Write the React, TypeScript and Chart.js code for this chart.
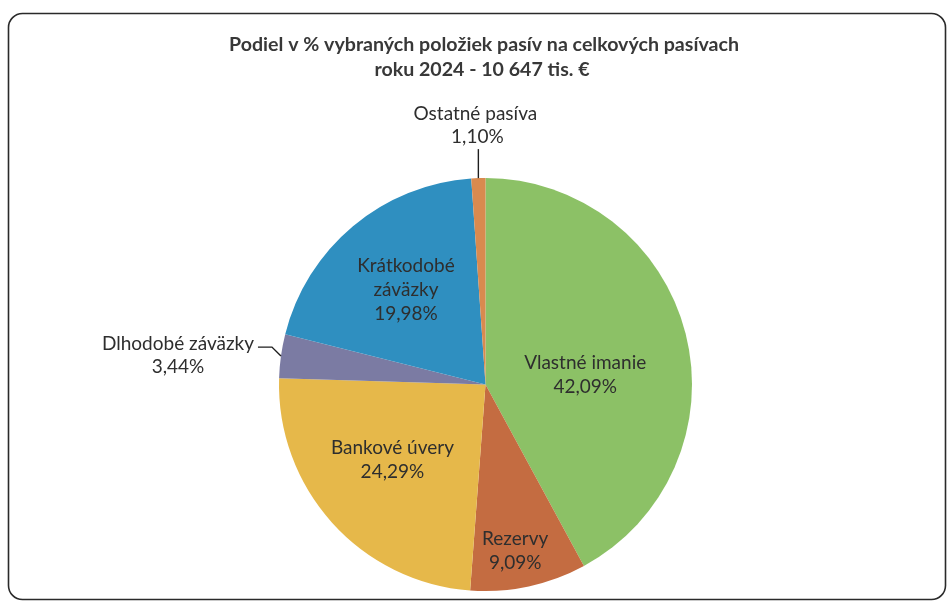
import React, { useEffect, useRef } from "react";
import { Chart, registerables } from "chart.js";

Chart.register(...registerables);

const categories = [
  "Vlastné imanie",
  "Rezervy",
  "Bankové úvery",
  "Dlhodobé záväzky",
  "Krátkodobé záväzky",
  "Ostatné pasíva",
];
const labelLines = [
  ["Vlastné imanie"],
  ["Rezervy"],
  ["Bankové úvery"],
  ["Dlhodobé záväzky"],
  ["Krátkodobé", "záväzky"],
  ["Ostatné pasíva"],
];
const values = [42.09, 9.09, 24.29, 3.44, 19.98, 1.1];
const percentLabels = ["42,09%", "9,09%", "24,29%", "3,44%", "19,98%", "1,10%"];
const titleLines = [
  "Podiel v % vybraných položiek pasív na celkových pasívach",
  "roku 2024 - 10 647 tis. €",
];
const colors = ["#8cc166", "#c46c41", "#e6b84a", "#7b7ba3", "#2f8fc0", "#d98a4f"];

// label placement style (mode, radial factor, angle shift in degrees)
const placement = [
  { mode: "in", f: 0.485, shift: 8.7 },
  { mode: "in", f: 0.82, shift: 2 },
  { mode: "in", f: 0.58, shift: 3 },
  { mode: "left" },
  { mode: "in", f: 0.6, shift: 0 },
  { mode: "top" },
];

const FONT = "Lato, 'Open Sans', sans-serif";
const TEXT = "#2e2e2e";

const decorPlugin = {
  id: "decor",
  beforeDraw(chart: any) {
    const ctx = chart.ctx;
    ctx.save();
    ctx.fillStyle = "#ffffff";
    ctx.fillRect(0, 0, chart.width, chart.height);
    // frame
    const x = 8.5, y = 13.5, w = 937, h = 586, r = 14;
    ctx.beginPath();
    ctx.moveTo(x + r, y);
    ctx.lineTo(x + w - r, y);
    ctx.arcTo(x + w, y, x + w, y + r, r);
    ctx.lineTo(x + w, y + h - r);
    ctx.arcTo(x + w, y + h, x + w - r, y + h, r);
    ctx.lineTo(x + r, y + h);
    ctx.arcTo(x, y + h, x, y + h - r, r);
    ctx.lineTo(x, y + r);
    ctx.arcTo(x, y, x + r, y, r);
    ctx.closePath();
    ctx.strokeStyle = "#2a2a2a";
    ctx.lineWidth = 1.6;
    ctx.stroke();
    // title
    ctx.fillStyle = "#383838";
    ctx.font = `bold 19.6px ${FONT}`;
    ctx.textAlign = "center";
    ctx.textBaseline = "middle";
    ctx.fillText(titleLines[0], 484, 45);
    ctx.fillText(titleLines[1], 482, 70);
    ctx.restore();
  },
  afterDatasetsDraw(chart: any) {
    const ctx = chart.ctx;
    const meta = chart.getDatasetMeta(0);
    ctx.save();
    ctx.fillStyle = TEXT;
    ctx.font = `19px ${FONT}`;
    ctx.textBaseline = "middle";
    const lh = 24;
    meta.data.forEach((arc: any, i: number) => {
      const { x, y, startAngle, endAngle, outerRadius } = arc.getProps(
        ["x", "y", "startAngle", "endAngle", "outerRadius"],
        true
      );
      const mid = (startAngle + endAngle) / 2;
      const p: any = placement[i];
      const lines = [...labelLines[i], percentLabels[i]];
      if (p.mode === "in") {
        const a = mid + (p.shift * Math.PI) / 180;
        const cx = x + Math.cos(a) * outerRadius * p.f;
        const cy = y + Math.sin(a) * outerRadius * p.f;
        ctx.textAlign = "center";
        const top = cy - ((lines.length - 1) * lh) / 2;
        lines.forEach((t, k) => ctx.fillText(t, cx, top + k * lh));
      } else if (p.mode === "top") {
        const ex = x + Math.cos(mid) * outerRadius;
        const ey = y + Math.sin(mid) * outerRadius;
        ctx.strokeStyle = "#1e1e1e";
        ctx.lineWidth = 1.4;
        ctx.beginPath();
        ctx.moveTo(ex, ey);
        ctx.lineTo(ex, ey - 29);
        ctx.stroke();
        ctx.textAlign = "center";
        ctx.fillText(lines[0], ex - 3, ey - 64);
        ctx.fillText(lines[1], ex - 1, ey - 41);
      } else {
        const ex = x + Math.cos(mid) * outerRadius;
        const ey = y + Math.sin(mid) * outerRadius;
        ctx.strokeStyle = "#1e1e1e";
        ctx.lineWidth = 1.4;
        ctx.beginPath();
        ctx.moveTo(ex, ey);
        ctx.lineTo(ex - 9, ey - 9);
        ctx.lineTo(ex - 23, ey - 9);
        ctx.stroke();
        ctx.textAlign = "right";
        ctx.fillText(lines[0], ex - 27, ey - 12);
        ctx.textAlign = "center";
        ctx.fillText(lines[1], ex - 103, ey + 11);
      }
    });
    ctx.restore();
  },
};

export default function App() {
  const ref = useRef<HTMLCanvasElement>(null);
  useEffect(() => {
    if (!ref.current) return;
    const chart = new Chart(ref.current, {
      type: "pie",
      data: {
        labels: categories,
        datasets: [
          {
            data: values,
            backgroundColor: colors,
            borderWidth: 0,
          },
        ],
      },
      options: {
        responsive: false,
        animation: false,
        rotation: 0,
        layout: { padding: { top: 178, bottom: 11, left: 279, right: 258 } },
        plugins: {
          legend: { display: false },
          tooltip: { enabled: false },
          title: { display: false },
        },
      },
      plugins: [decorPlugin],
    });
    return () => chart.destroy();
  }, []);
  return (
    <div style={{ position: "fixed", left: 0, top: 0, width: 950, height: 602, background: "#fff" }}>
      <canvas ref={ref} width={950} height={602} style={{ display: "block" }} />
    </div>
  );
}
